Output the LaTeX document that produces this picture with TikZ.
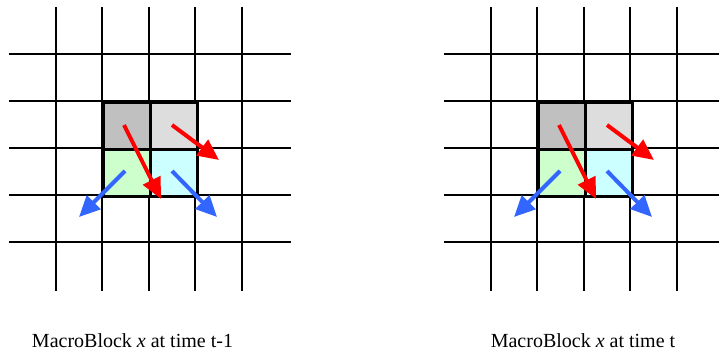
\documentclass[tikz,border=0pt]{standalone}
\usepackage{fontspec}
\setmainfont{Liberation Serif}
\usetikzlibrary{arrows.meta}
\definecolor{cellA}{HTML}{C0C0C0}
\definecolor{cellB}{HTML}{DDDDDD}
\definecolor{cellC}{HTML}{CCFFCC}
\definecolor{cellD}{HTML}{CCFFFF}
\definecolor{mvred}{HTML}{FF0000}
\definecolor{mvblue}{HTML}{3366FF}
\tikzset{
  gridline/.style={line width=1.3pt, black},
  mbcell/.style={draw=black, line width=2.6pt, minimum width=47pt, minimum height=47pt, inner sep=0pt, anchor=north west},
  mv/.style={line width=4pt, -{Triangle[length=21pt,width=19pt]}},
  caption/.style={font=\fontsize{20}{24}\selectfont, anchor=base, inner sep=0pt}
}
\begin{document}
\begin{tikzpicture}[x=1pt,y=-1pt]
\useasboundingbox (0,0) rectangle (719,353);
\foreach \sx/\tag/\xr in {0/L/291, 435/R/284} {
  \begin{scope}[xshift=\sx pt]
    \foreach \gx in {56,102,149,195,242}
      \draw[gridline] (\gx,7) -- (\gx,291);
    \foreach \gy in {54,101,148,195,242}
      \draw[gridline] (9,\gy) -- (\xr,\gy);
    \node[mbcell, fill=cellA] (a\tag) at (102,101) {};
    \node[mbcell, fill=cellB] (b\tag) at (149,101) {};
    \node[mbcell, fill=cellC] (c\tag) at (102,148) {};
    \node[mbcell, fill=cellD] (d\tag) at (149,148) {};
    \coordinate (r1s\tag) at (124,125);
    \coordinate (r1e\tag) at (161,199);
    \coordinate (r2s\tag) at (172,125);
    \coordinate (r2e\tag) at (219,160);
    \coordinate (b1s\tag) at (125,171);
    \coordinate (b1e\tag) at (79,217);
    \coordinate (b2s\tag) at (172,171);
    \coordinate (b2e\tag) at (217,217);
    \draw[mv, mvred] (r1s\tag) -- (r1e\tag);
    \draw[mv, mvred] (r2s\tag) -- (r2e\tag);
    \draw[mv, mvblue] (b1s\tag) -- (b1e\tag);
    \draw[mv, mvblue] (b2s\tag) -- (b2e\tag);
  \end{scope}
}
\node[caption] (capL) at (132.5,347) {MacroBlock \textit{x} at time t-1};
\node[caption] (capR) at (583,347) {MacroBlock \textit{x} at time t};
\end{tikzpicture}
\end{document}
